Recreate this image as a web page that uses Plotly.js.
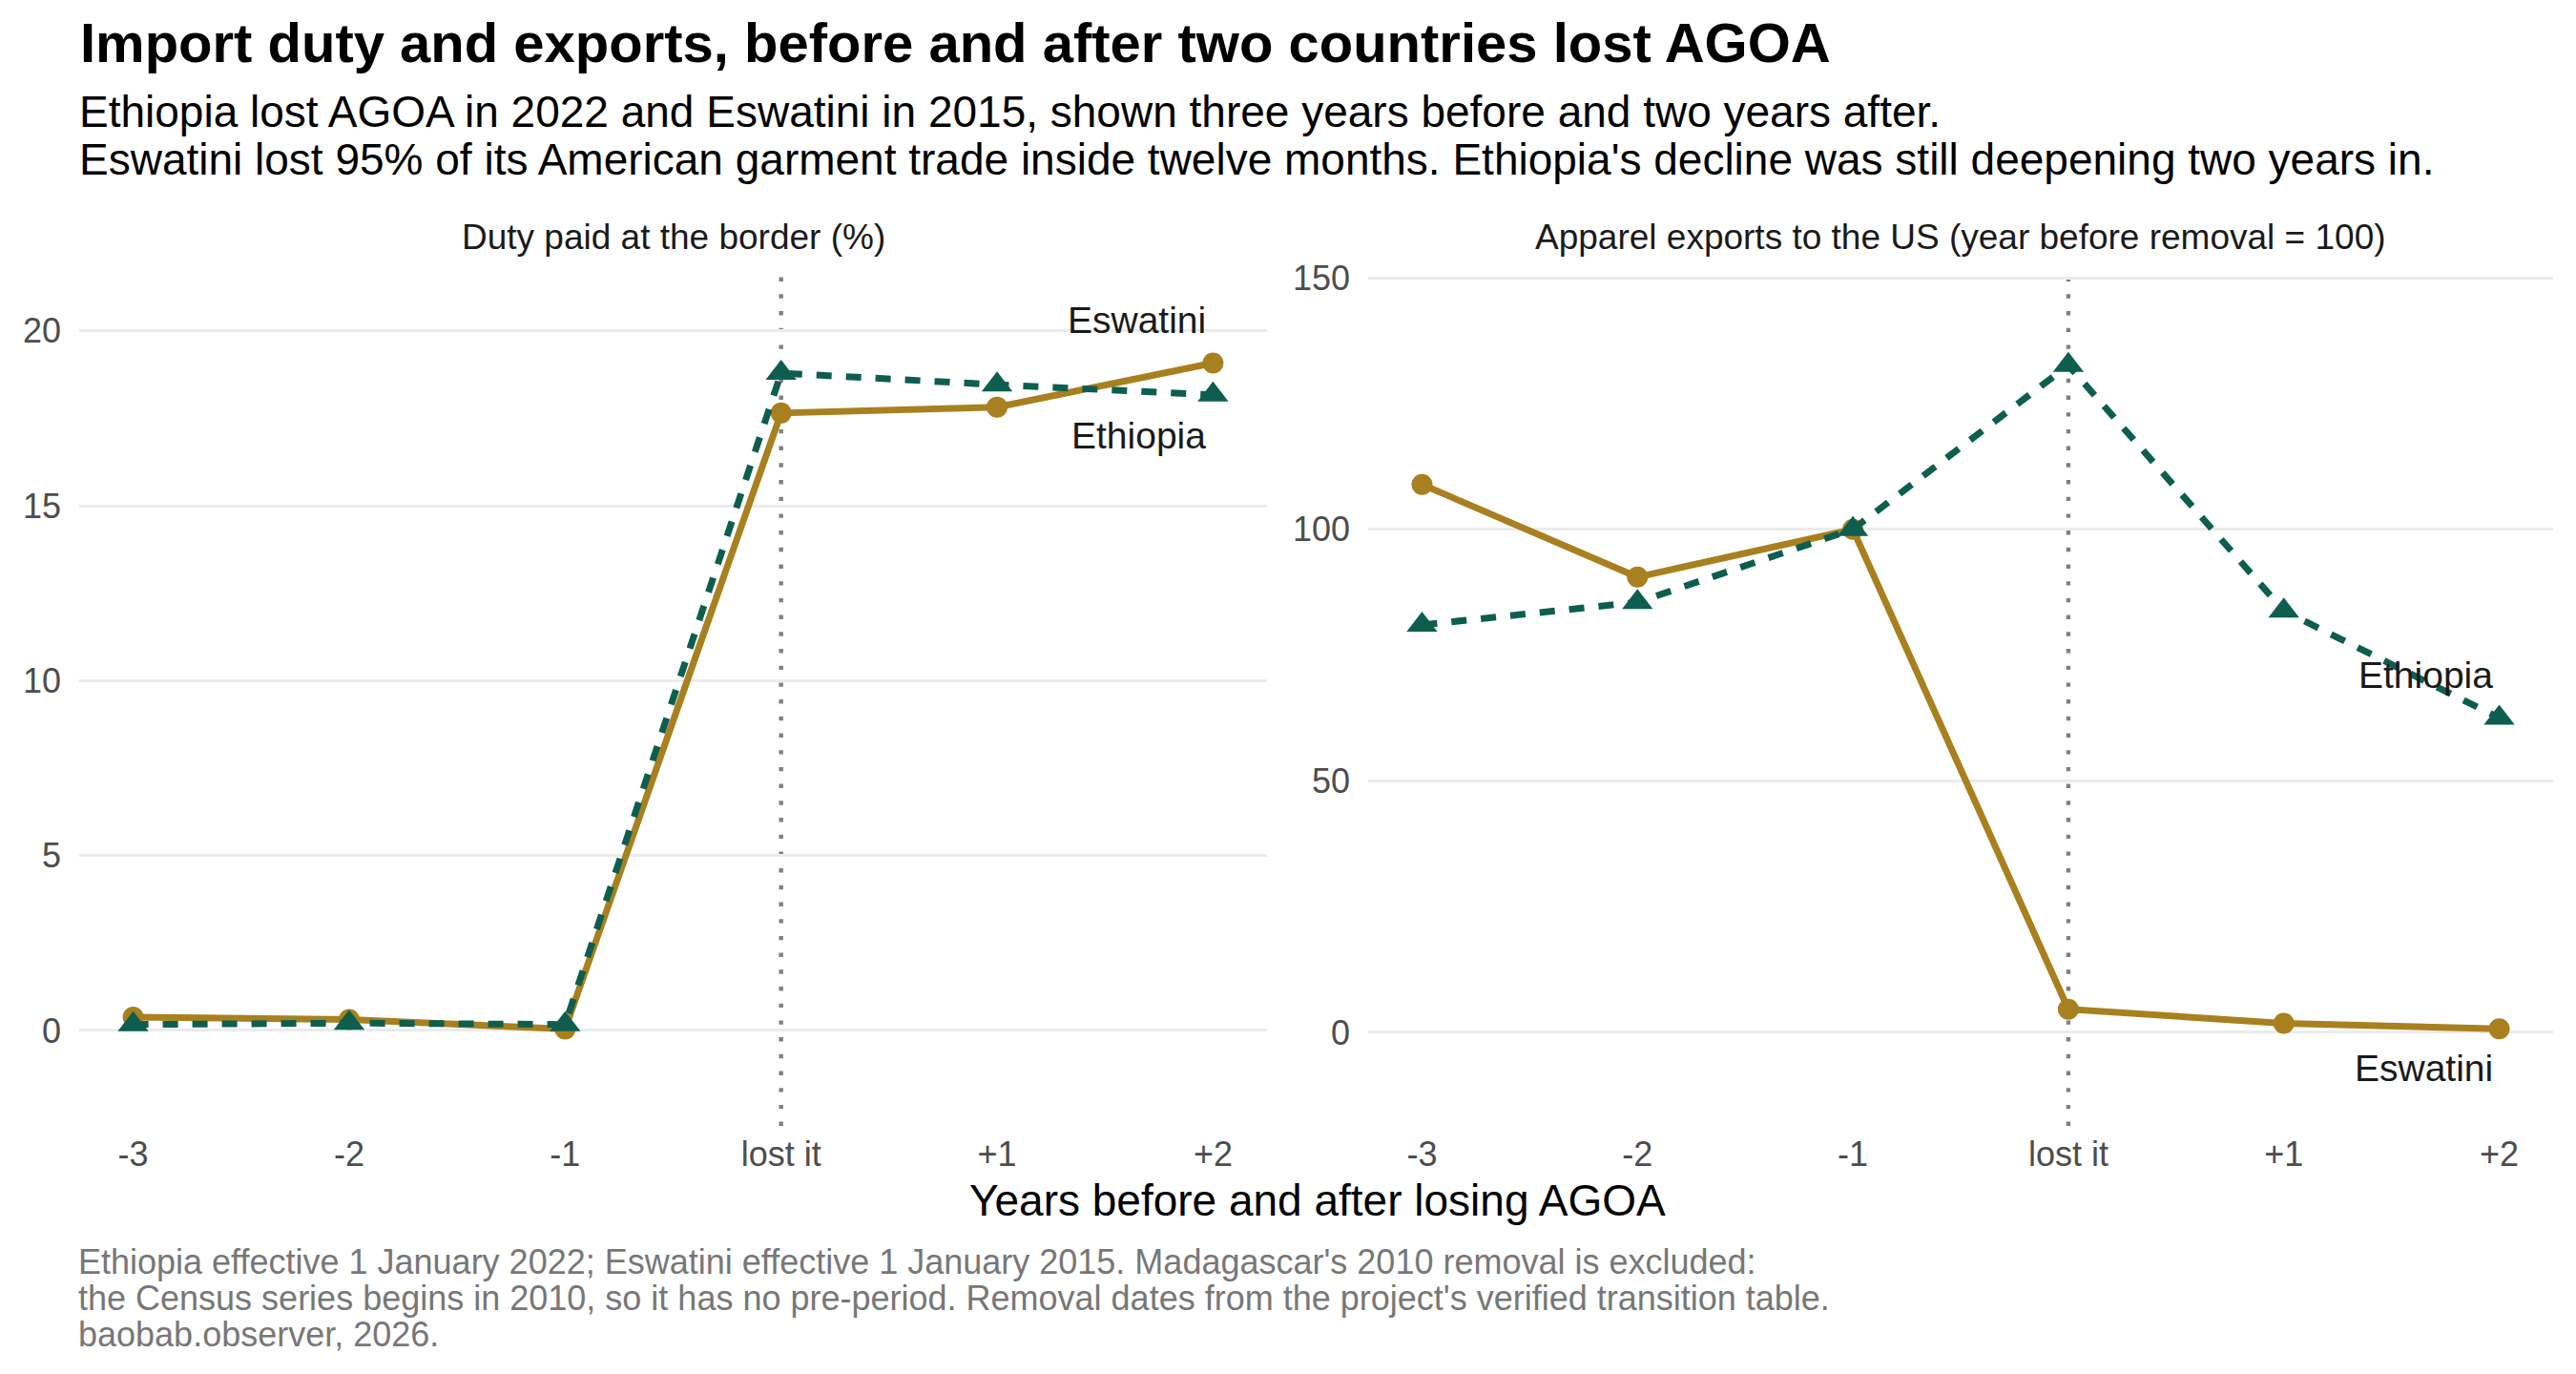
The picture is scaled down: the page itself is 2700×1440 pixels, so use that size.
<!DOCTYPE html>
<html>
<head>
<meta charset="utf-8">
<script src="https://cdn.plot.ly/plotly-3.0.1.min.js"></script>
<style>
  html, body { margin: 0; padding: 0; background: #ffffff; }
  #chart { width: 2700px; height: 1440px; }
</style>
</head>
<body>
<div id="chart"></div>
<script>
// ---- Data ----
const offsets = [-3, -2, -1, 0, 1, 2];
const offsetLabels = ['-3', '-2', '-1', 'lost it', '+1', '+2'];
const eswatiniDuty = [0.38, 0.31, 0.04, 17.65, 17.82, 19.08];
const ethiopiaDuty = [0.17, 0.21, 0.17, 18.79, 18.46, 18.17];
const eswatiniExports = [108.9, 90.5, 100, 4.6, 1.8, 0.7];
const ethiopiaExports = [81.0, 85.5, 100, 132.6, 83.8, 62.5];
const dutyTicks = [0, 5, 10, 15, 20];
const exportTicks = [0, 50, 100, 150];
const panelTitles = ['Duty paid at the border (%)', 'Apparel exports to the US (year before removal = 100)'];

// ---- Styles ----
const GOLD = '#a8801f';
const GREEN = '#0d5e4e';
const FONT = 'Liberation Sans, Arial, Helvetica, sans-serif';
const W = 2700, H = 1440;
const px = v => v / W;
const py = v => 1 - v / H;

function goldTrace(y, xa, ya) {
  return {
    x: offsets, y: y, xaxis: xa, yaxis: ya, type: 'scatter', mode: 'lines+markers',
    name: 'Eswatini', showlegend: false, hoverinfo: 'skip',
    line: { color: GOLD, width: 7 },
    marker: { color: GOLD, size: 22, symbol: 'circle' }
  };
}
function greenTrace(y, xa, ya) {
  return {
    x: offsets, y: y, xaxis: xa, yaxis: ya, type: 'scatter', mode: 'lines+markers',
    name: 'Ethiopia', showlegend: false, hoverinfo: 'skip',
    line: { color: GREEN, width: 7, dash: '16px,15px' },
    marker: { color: GREEN, size: 28, symbol: 'triangle-up' }
  };
}

const traces = [
  goldTrace(eswatiniDuty, 'x', 'y'),
  greenTrace(ethiopiaDuty, 'x', 'y'),
  goldTrace(eswatiniExports, 'x2', 'y2'),
  greenTrace(ethiopiaExports, 'x2', 'y2')
];

const xCommon = {
  range: [-3.25, 2.25], tickvals: offsets, ticktext: offsetLabels,
  showgrid: false, zeroline: false, showline: false, ticks: '',
  tickfont: { family: FONT, size: 36, color: '#4d4d4d' },
  ticklabelstandoff: 5, fixedrange: true
};
const yCommon = {
  showgrid: true, gridcolor: '#ebebeb', gridwidth: 3, zeroline: false, showline: false, ticks: '',
  tickfont: { family: FONT, size: 36, color: '#4d4d4d' },
  ticklabelstandoff: 18, fixedrange: true,
  domain: [py(1180), py(280)]
};

const ann = [];
function txt(text, x, y, size, color, xanchor) {
  ann.push({
    text: text, x: x, y: y, xref: 'paper', yref: 'paper', showarrow: false,
    xanchor: xanchor || 'left', yanchor: 'middle',
    font: { family: FONT, size: size, color: color }
  });
}
txt('Ethiopia lost AGOA in 2022 and Eswatini in 2015, shown three years before and two years after.', px(81), py(117), 46, '#000000');
txt("Eswatini lost 95% of its American garment trade inside twelve months. Ethiopia's decline was still deepening two years in.", px(81), py(167), 46, '#000000');
txt(panelTitles[0], px((83 + 1328) / 2), py(248), 37, '#1a1a1a', 'center');
txt(panelTitles[1], px((1434 + 2676) / 2), py(248), 37, '#1a1a1a', 'center');
txt('Years before and after losing AGOA', px(1381), py(1258), 46, '#000000', 'center');
txt("Ethiopia effective 1 January 2022; Eswatini effective 1 January 2015. Madagascar's 2010 removal is excluded:", px(80), py(1322), 36, '#777777');
txt("the Census series begins in 2010, so it has no pre-period. Removal dates from the project's verified transition table.", px(80), py(1360), 36, '#777777');
txt('baobab.observer, 2026.', px(80), py(1398), 36, '#777777');

// direct labels
function lab(text, y, xa, ya) {
  ann.push({ text: text, x: 2, y: y, xref: xa, yref: ya, showarrow: false, xshift: -5,
    xanchor: 'right', yanchor: 'middle', font: { family: FONT, size: 39, color: '#1a1a1a' } });
}
lab('Eswatini', 20.3, 'x', 'y');
lab('Ethiopia', 17.0, 'x', 'y');
lab('Ethiopia', 71, 'x2', 'y2');
lab('Eswatini', -7.2, 'x2', 'y2');

const shapes = [
  { type: 'line', xref: 'x', yref: 'y domain', x0: 0, x1: 0, y0: 0, y1: 1, layer: 'below',
    line: { color: '#808080', width: 4.4, dash: '4.4px,13.3px' } },
  { type: 'line', xref: 'x2', yref: 'y2 domain', x0: 0, x1: 0, y0: 0, y1: 1, layer: 'below',
    line: { color: '#808080', width: 4.4, dash: '4.4px,13.3px' } }
];

const layout = {
  width: W, height: H,
  margin: { l: 0, r: 0, t: 0, b: 0 },
  paper_bgcolor: '#ffffff', plot_bgcolor: '#ffffff',
  font: { family: FONT },
  title: {
    text: 'Import duty and exports, before and after two countries lost AGOA',
    x: px(84), xanchor: 'left', xref: 'paper',
    y: py(45), yanchor: 'middle', yref: 'paper',
    font: { family: FONT, size: 58, color: '#000000', weight: 700 }
  },
  xaxis: Object.assign({}, xCommon, { domain: [px(83), px(1328)], anchor: 'y' }),
  xaxis2: Object.assign({}, xCommon, { domain: [px(1434), px(2676)], anchor: 'y2' }),
  yaxis: Object.assign({}, yCommon, { range: [-2.73, 21.82], tickvals: dutyTicks, anchor: 'x' }),
  yaxis2: Object.assign({}, yCommon, { range: [-18.59, 152.1], tickvals: exportTicks, anchor: 'x2' }),
  showlegend: false,
  annotations: ann,
  shapes: shapes
};

Plotly.newPlot('chart', traces, layout, { staticPlot: true, displayModeBar: false });
</script>
</body>
</html>
